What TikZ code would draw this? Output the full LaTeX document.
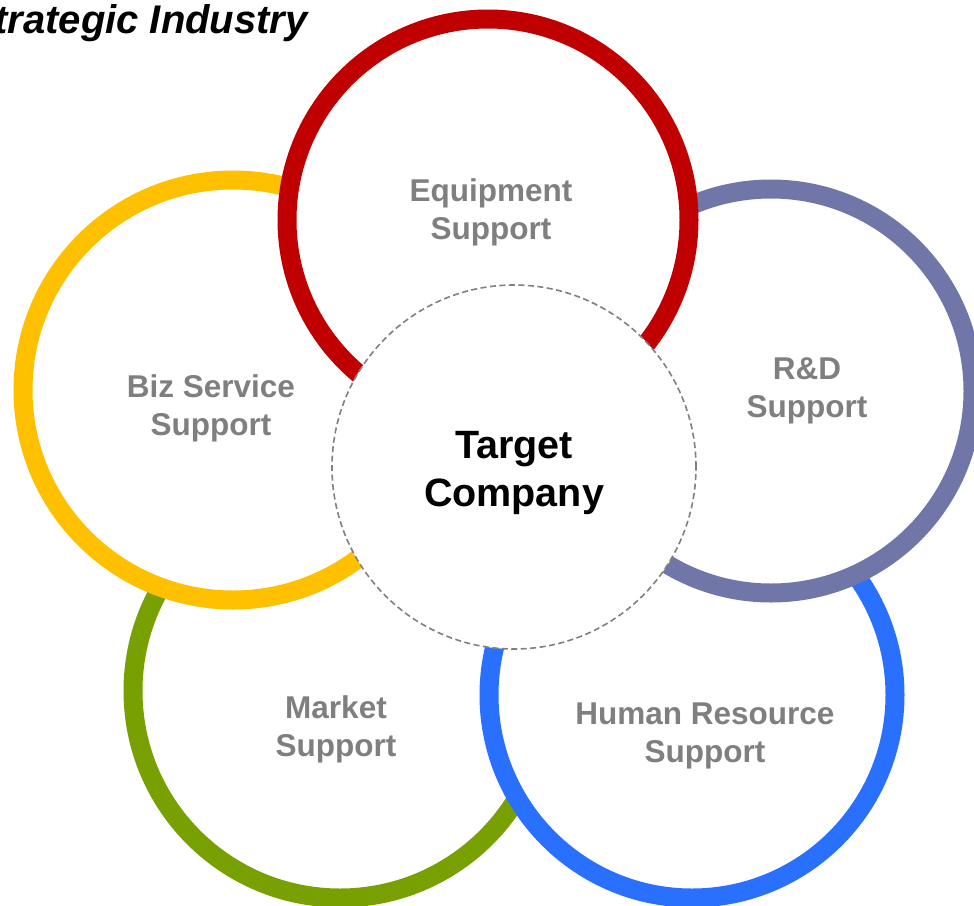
\documentclass[tikz,border=0pt]{standalone}
\usepackage{fontspec}
\setmainfont{Liberation Sans}
\definecolor{cred}{RGB}{192,0,0}
\definecolor{cpurple}{RGB}{112,118,168}
\definecolor{cyellow}{RGB}{255,192,0}
\definecolor{cgreen}{RGB}{119,160,0}
\definecolor{cblue}{RGB}{41,112,255}
\definecolor{cgraytext}{RGB}{127,127,127}
\definecolor{cdash}{RGB}{128,128,128}
\begin{document}
\begin{tikzpicture}[x=1pt,y=-1pt,
  ring/.style={circle, draw=#1, line width=19pt, fill=white, inner sep=0pt},
  label/.style={text=cgraytext, font=\fontsize{31.5}{38}\selectfont\bfseries, align=center},
  hub/.style={circle, draw=cdash, dashed, dash pattern=on 6pt off 3.5pt, line width=1.6pt, fill=white, inner sep=0pt, minimum size=364pt}]
\useasboundingbox (0,0) rectangle (974,905);
% rings, back to front
\node[ring=cgreen, minimum size=414pt] (market) at (340,691) {};
\node[ring=cblue, minimum size=406pt] (hr) at (692,695) {};
\node[ring=cpurple, minimum size=404pt] (rd) at (771,391) {};
\node[ring=cyellow, minimum size=420pt] (biz) at (233,390) {};
\node[ring=cred, minimum size=402pt] (equip) at (488,220) {};
% centre
\node[hub] (target) at (514,467) {};
% texts
\node[font=\fontsize{39.5}{48}\selectfont\bfseries, align=center] (targettext) at (514,473) {Target\\Company};
\node[label] (equiptext) at (491,212) {Equipment\\Support};
\node[label] (biztext) at (211,408) {Biz Service\\Support};
\node[label] (rdtext) at (807,391) {R\&D\\Support};
\node[label] (markettext) at (336,729) {Market\\Support};
\node[label] (hrtext) at (705,736) {Human Resource\\Support};
\node[anchor=base east, inner sep=0pt, font=\fontsize{40}{46}\selectfont\bfseries\itshape] (title) at (308,33) {Strategic Industry};
\end{tikzpicture}
\end{document}
